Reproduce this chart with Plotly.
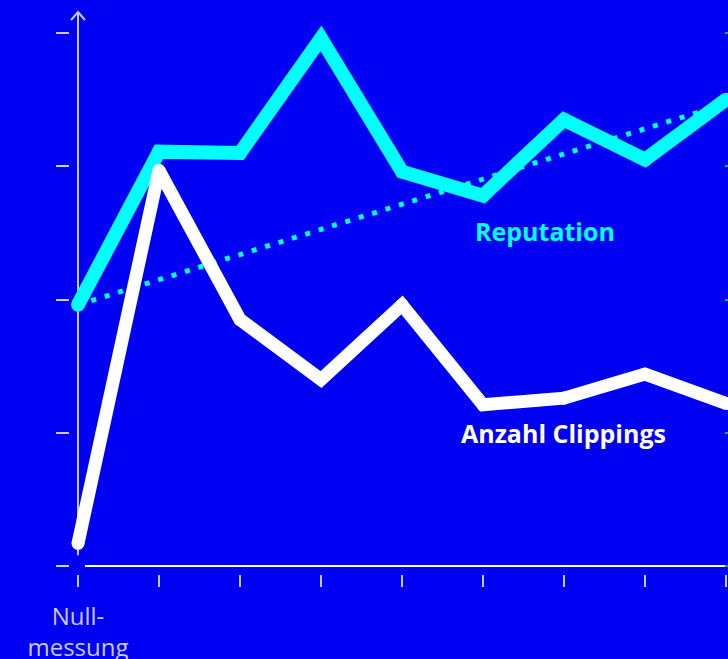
import plotly.graph_objects as go

# ---- data ----
periods = list(range(9))
period_labels = ["Null-<br>messung", "", "", "", "", "", "", "", ""]
reputation = [1.96, 3.11, 3.10, 3.96, 2.96, 2.78, 3.35, 3.05, 3.50]
clippings = [0.17, 2.97, 1.85, 1.40, 1.96, 1.21, 1.26, 1.44, 1.22]
trend_x = [0, 8]
trend_y = [1.96, 3.47]
y_ticks = [0, 1, 2, 3, 4]

BG = "#0000F2"
CYAN = "#00FFFF"
WHITE = "#FFFFFF"
LAV = "#C8C8FF"
GREEN = "#00C800"
FONT = "Open Sans"

fig = go.Figure()
fig.add_trace(go.Scatter(x=trend_x, y=trend_y, mode="lines",
                         line=dict(color=CYAN, width=5, dash="5px,9px"),
                         hoverinfo="skip", showlegend=False))
fig.add_trace(go.Scatter(x=periods, y=reputation, mode="lines+markers",
                         line=dict(color=CYAN, width=14),
                         marker=dict(color=CYAN, size=14, line=dict(width=0)),
                         showlegend=False))
fig.add_trace(go.Scatter(x=periods, y=clippings, mode="lines+markers",
                         line=dict(color=WHITE, width=13),
                         marker=dict(color=WHITE, size=13, line=dict(width=0)),
                         showlegend=False))

# axis decorations
fig.add_shape(type="line", xref="x", yref="y", x0=0, x1=0, y0=0.08, y1=4.158,
              line=dict(color=LAV, width=2), layer="below")
fig.add_shape(type="path", xref="x", yref="y",
              path="M -0.086 4.098 L 0 4.158 L 0.086 4.098",
              line=dict(color=LAV, width=2), layer="below")
fig.add_shape(type="line", xref="x", yref="y", x0=0.086, x1=8.2, y0=0, y1=0,
              line=dict(color=WHITE, width=2), layer="below")

fig.add_annotation(x=5.765, y=2.514, text="<b>Reputation</b>", showarrow=False,
                   font=dict(family=FONT, size=25, color=CYAN))
fig.add_annotation(x=6.0, y=0.998, text="<b>Anzahl Clippings</b>", showarrow=False,
                   font=dict(family=FONT, size=25, color=WHITE))

fig.update_layout(
    width=728, height=659,
    margin=dict(l=70, r=0, t=0, b=85, autoexpand=False),
    paper_bgcolor=BG, plot_bgcolor=BG,
    xaxis=dict(range=[-0.0988, 8.025], tickvals=periods, ticktext=period_labels,
               ticks="outside", ticklen=12, tickwidth=1.5, tickcolor=LAV,
               showgrid=False, zeroline=False, showline=False, automargin=False,
               tickfont=dict(family=FONT, size=24, color=LAV),
               ticklabelstandoff=9),
    yaxis=dict(range=[-0.060, 4.248], tickvals=y_ticks, ticks="outside",
               ticklen=13, tickwidth=1.5, tickcolor=LAV, showticklabels=False,
               showgrid=False, zeroline=False, showline=False, automargin=False),
    yaxis2=dict(range=[-0.060, 4.248], tickvals=y_ticks, ticks="outside",
                ticklen=6, tickwidth=2, tickcolor=GREEN, showticklabels=False,
                showgrid=False, zeroline=False, showline=False, automargin=False,
                overlaying="y", side="right", anchor="free", position=0.994),
)
fig.add_trace(go.Scatter(x=[None], y=[None], yaxis="y2", showlegend=False))

fig.write_html("out.html")
